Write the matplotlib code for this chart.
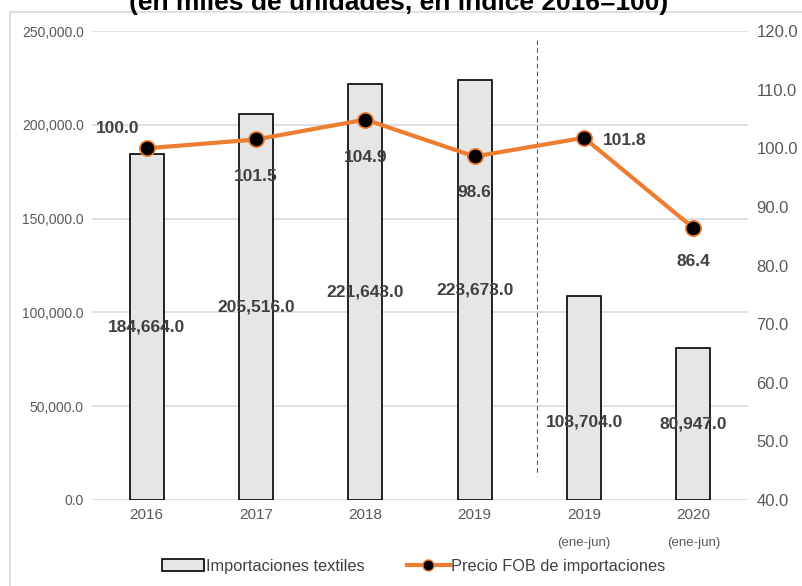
"""
Importaciones textiles vs precio FOB de importaciones (2016-2020).
"""
import matplotlib

matplotlib.use("Agg")
import matplotlib.pyplot as plt
from matplotlib.lines import Line2D
from matplotlib.patches import Patch, Rectangle

plt.rcParams["font.family"] = ["Liberation Sans", "DejaVu Sans"]

categorias = ["2016", "2017", "2018", "2019", "2019", "2020"]
subetiquetas = ["", "", "", "", "(ene-jun)", "(ene-jun)"]
importaciones = [184664.0, 205516.0, 221643.0, 223673.0, 108704.0, 80947.0]
precio_fob = [100.0, 101.5, 104.9, 98.6, 101.8, 86.4]

GRIS = "#595959"
TXT = "#404040"
NARANJA = "#ed7d31"

fig = plt.figure(figsize=(8.03, 5.86), dpi=100)
ax = fig.add_axes([0.1146, 0.1468, 0.8169, 0.8002])
ax2 = ax.twinx()

# marco exterior (cortado a la derecha y abajo)
fig.patches.append(Rectangle((10 / 803, -0.05), 1.0, 1 - 12 / 586 + 0.05,
                             transform=fig.transFigure, fill=False,
                             edgecolor="#d9d9d9", lw=1.2))

x = list(range(len(categorias)))
ax.bar(x, importaciones, width=0.31, color="#e6e6e6", edgecolor="black",
       lw=1.2, zorder=2)
ax.set_ylim(0, 250000)
ax.set_xlim(-0.5, len(categorias) - 0.5)
ax.set_yticks(range(0, 250001, 50000))
ax.set_yticklabels([f"{v:,.1f}" for v in range(0, 250001, 50000)],
                   fontsize=10, color=GRIS)
ax.grid(axis="y", color="#d9d9d9", lw=1.2, zorder=0)
ax.set_axisbelow(True)
ax.tick_params(axis="both", length=0, pad=6)
ax.set_xticks(x)
ax.set_xticklabels(categorias, fontsize=11, color=GRIS)
for i, sub in enumerate(subetiquetas):
    if sub:
        ax.text(i, -0.078, sub, transform=ax.get_xaxis_transform(),
                ha="center", va="top", fontsize=9.5, color=GRIS)
for s in ax.spines.values():
    s.set_visible(False)

# linea divisoria discontinua
ax.plot([3.57, 3.57], [245000, 13000], ls=(0, (4, 3)), color="#595959",
        lw=0.8, zorder=1)

# etiquetas de barras (centradas)
ajuste_y = {4: -13000}
for i, v in enumerate(importaciones):
    ax.text(i, v / 2 + ajuste_y.get(i, 0), f"{v:,.1f}", ha="center",
            va="center", fontsize=12.5, fontweight="bold", color=TXT, zorder=5)

ax2.plot(x, precio_fob, color=NARANJA, lw=3, marker="o", markersize=11,
         markerfacecolor="black", markeredgecolor=NARANJA,
         markeredgewidth=1.2, zorder=4)
ax2.set_ylim(40, 120)
ax2.set_yticks(range(40, 121, 10))
ax2.set_yticklabels([f"{v:.1f}" for v in range(40, 121, 10)],
                    fontsize=12, color=GRIS)
ax2.tick_params(axis="y", length=0, pad=6)
for s in ax2.spines.values():
    s.set_visible(False)

offsets = [(-21, 14), (0, -27), (0, -27), (0, -26), (29, -2), (0, -24)]
for i, (v, off) in enumerate(zip(precio_fob, offsets)):
    ax2.annotate(f"{v:.1f}", (i, v), xytext=off, textcoords="offset points",
                 ha="center", va="center", fontsize=12.5, fontweight="bold",
                 color=TXT, zorder=6)

fig.text(0.497, 0.995, "(en miles de unidades, en índice 2016=100)",
         ha="center", va="center", fontsize=19, fontweight="bold",
         color="black")

handles = [
    Patch(facecolor="#e6e6e6", edgecolor="black", lw=1.2,
          label="Importaciones textiles"),
    Line2D([0], [0], color=NARANJA, lw=3, marker="o", markersize=8,
           markerfacecolor="black", markeredgecolor=NARANJA,
           label="Precio FOB de importaciones"),
]
fig.legend(handles=handles, loc="center", bbox_to_anchor=(0.515, 0.034),
           ncol=2, frameon=False, fontsize=11.8, handlelength=2.6,
           handletextpad=0.1, columnspacing=2.6, labelcolor=TXT)

fig.savefig("out.png", dpi=100)
